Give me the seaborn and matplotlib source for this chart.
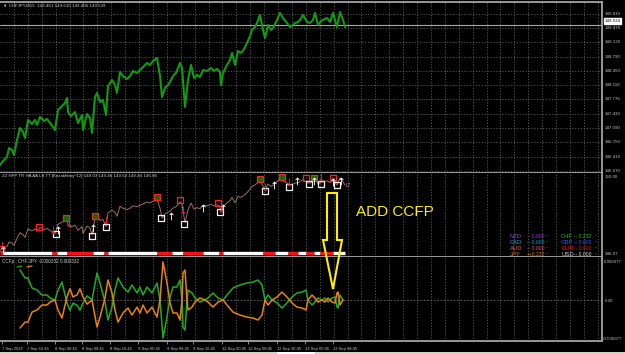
import numpy as np
import pandas as pd
import matplotlib.pyplot as plt
import seaborn as sns
from matplotlib.patches import Polygon, Rectangle
from matplotlib.lines import Line2D

# CHFJPY M15 close (x = bar position on the chart)
price_x = [0, 4, 7, 9, 12, 14, 17, 20, 23, 25, 28, 32, 35, 37, 40, 44, 47, 50, 53, 55,
           58, 62, 65, 67, 68, 71, 75, 78, 82, 83, 87, 90, 92, 95, 97, 100, 103, 106, 108, 112,
           115, 117, 120, 123, 127, 130, 133, 137, 140, 144, 147, 150, 153, 157, 160, 162, 165, 168, 170, 173,
           176, 180, 182, 185, 188, 191, 194, 197, 200, 203, 207, 211, 214, 217, 220, 221, 223, 227, 230, 232,
           235, 238, 241, 244, 247, 250, 252, 255, 257, 260, 263, 265, 268, 271, 273, 277, 280, 283, 287, 290,
           293, 295, 298, 300, 303, 307, 310, 313, 315, 318, 321, 323, 327, 330, 333, 335, 337, 340, 343, 345]
price = [146.213, 146.332, 146.403, 146.617, 146.569, 146.450, 146.807, 147.093, 146.997, 146.855,
         147.283, 147.188, 147.283, 147.164, 147.354, 147.259, 147.307, 147.211, 147.116, 147.045,
         147.521, 147.616, 147.687, 147.806, 147.473, 147.378, 147.473, 147.211, 147.402, 147.045,
         147.425, 147.330, 146.974, 147.830, 147.925, 147.711, 147.758, 147.402, 148.091, 148.234,
         148.115, 147.925, 148.424, 148.329, 148.258, 148.329, 148.448, 148.400, 148.472, 148.567,
         148.638, 148.591, 148.686, 148.757, 148.329, 147.830, 148.044, 148.115, 148.186, 148.329,
         148.400, 148.638, 148.519, 147.592, 148.234, 148.591, 148.281, 148.353, 148.305, 148.472,
         148.448, 148.519, 148.448, 148.496, 148.424, 148.115, 148.400, 148.591, 148.710, 148.876,
         148.591, 148.924, 148.876, 148.971, 149.114, 149.280, 149.423, 149.494, 149.589, 149.780,
         149.423, 149.233, 149.542, 149.423, 149.470, 149.661, 149.827, 149.708, 149.589, 149.494,
         149.542, 149.589, 149.613, 149.661, 149.780, 149.613, 149.589, 149.661, 149.827, 149.542,
         149.637, 149.661, 149.708, 149.613, 149.827, 149.661, 149.494, 149.851, 149.661, 149.494]
bid = 149.539
top_levels = [149.810, 149.470, 149.130, 148.790, 148.450, 148.110, 147.770,
              147.430, 147.090, 146.750, 146.410, 146.070]

# zigzag window: highs (red boxes), lows (white boxes), arrows
hi_x = [1, 39, 66, 95, 157, 180, 218, 260, 282, 306, 314, 333]
hi_p = [146.30, 147.38, 147.83, 147.93, 148.89, 148.74, 148.59, 149.80, 149.90, 149.85, 149.85, 149.85]
hi_green = [False, False, True, True, True, False, False, True, True, False, True, False]
dn_x = [2, 53, 69, 106, 183, 221, 265, 289, 321]
dn_p = [146.47, 147.23, 147.58, 147.73, 148.24, 148.34, 149.40, 149.65, 149.90]
lo_x = [56, 92, 106, 161, 184, 220, 265, 289, 309, 321, 337]
lo_p = [147.03, 146.93, 147.38, 147.83, 147.53, 148.14, 149.19, 149.40, 149.55, 149.55, 149.50]
up_x = [3, 58, 93, 171, 203, 223, 274, 297, 314, 333, 341]
up_p = [146.22, 147.23, 147.33, 147.93, 148.34, 148.34, 149.50, 149.70, 149.70, 149.65, 149.70]
band_level = 146.07
band_edges = [0, 3, 52, 57, 67, 93, 104, 108, 157, 172, 183, 203, 219, 223, 263, 275,
              288, 298, 306, 314, 320, 333, 345]
band_colors = ['#ff1010', '#ffffff'] * 11

# CCFp window: CHF and JPY strength
ccf_x = [20, 25, 28, 32, 37, 42, 47, 50, 55, 58, 62, 65, 67, 70, 73, 77, 80, 83, 87, 92,
         97, 100, 105, 108, 112, 115, 118, 123, 128, 132, 137, 140, 143, 147, 152, 157, 160, 163, 167, 170,
         173, 177, 180, 182, 183, 185, 187, 188, 192, 195, 200, 205, 208, 213, 218, 223, 227, 233, 240, 247,
         253, 258, 262, 265, 268, 272, 277, 282, 287, 292, 297, 302, 306, 308, 312, 315, 318, 322, 325, 328,
         332, 335, 337, 338, 340, 343]
chf = [0.000294, 0.000216, 0.000216, 0.000118, 0.000098, 0.000049, 0.000049, 0.000020, 0.0, 0.000098,
       0.000176, 0.000050, -0.000030, -0.000100, -0.000030, -0.000050, -0.000100, -0.000030, 0.000040, 0.0,
       0.000265, 0.000167, -0.000020, -0.000196, -0.000069, 0.000098, 0.000216, 0.000127, 0.000078, 0.000147,
       0.000069, 0.000127, 0.000049, 0.000127, 0.000069, 0.000167, 0.0, -0.000372, -0.000167, 0.000029,
       0.000127, 0.000127, 0.000196, 0.0, -0.000265, -0.000294, 0.0, 0.000098, 0.000069, 0.000020,
       -0.000020, 0.0, 0.000020, 0.000069, 0.000020, 0.0, 0.000049, 0.000118, 0.000147, 0.000167,
       0.000176, 0.000196, 0.000147, 0.0, 0.000049, 0.0, -0.000029, -0.000078, -0.000029, 0.000029,
       0.000069, 0.000078, 0.000098, 0.0, -0.000049, -0.000020, 0.000020, 0.0, 0.000020, -0.000020,
       0.000020, 0.000029, -0.000069, -0.000078, 0.000049, 0.0]
jpy = [-0.000274, -0.000216, -0.000216, -0.000118, -0.000098, -0.000049, -0.000049, -0.000020, 0.0, -0.000098,
       -0.000176, -0.000050, 0.000030, 0.000110, 0.000030, 0.000050, 0.000110, 0.000030, -0.000040, 0.0,
       -0.000265, -0.000167, 0.000020, 0.000196, 0.000069, -0.000098, -0.000216, -0.000127, -0.000078, -0.000147,
       -0.000069, -0.000127, -0.000049, -0.000127, -0.000069, -0.000167, 0.0, 0.000372, 0.000167, -0.000029,
       -0.000127, -0.000127, -0.000196, 0.0, 0.000265, 0.000294, 0.0, -0.000098, -0.000069, -0.000020,
       0.000020, 0.0, -0.000020, -0.000069, -0.000020, 0.0, -0.000049, -0.000118, -0.000147, -0.000167,
       -0.000176, -0.000196, -0.000147, 0.0, -0.000049, 0.0, 0.000029, 0.000078, 0.000029, -0.000029,
       -0.000069, -0.000078, -0.000098, 0.0, 0.000049, 0.000020, -0.000020, 0.0, -0.000020, 0.000020,
       -0.000020, -0.000029, 0.000069, 0.000078, -0.000049, 0.0]

time_pos = [2, 27, 55, 82, 110, 138, 167, 193, 222, 248, 277, 305, 333]
time_labels = ['7 Sep 2022', '7 Sep 16:45', '8 Sep 00:45', '8 Sep 08:45', '8 Sep 16:45',
               '9 Sep 00:45', '9 Sep 08:45', '9 Sep 16:45', '12 Sep 00:45', '12 Sep 08:45',
               '12 Sep 16:45', '13 Sep 00:45', '13 Sep 08:45']

# currency strength legend in the zigzag window
cur_left = [('NZD', '-- 0.000', '#9b35d5'), ('CAD', '-- 0.000', '#14a8dc'),
            ('AUD', '-- 0.000', '#e0587f'), ('JPY', '++0.232', '#e07a00')]
cur_right = [('CHF', '-- 0.232', '#22c022'), ('GBP', '-- 0.000', '#3c55ff'),
             ('EUR', '-- 0.000', '#e01818'), ('USD', '-- 0.000', '#d8d8d8')]

sns.set_theme(style="dark", rc={"axes.facecolor": "black", "figure.facecolor": "black"})
plt.rcParams['font.family'] = ['Liberation Sans', 'DejaVu Sans']

W, H = 625, 354
PR = 602  # right edge of the chart area
fig = plt.figure(figsize=(W / 100, H / 100), dpi=100)
fig.patch.set_facecolor('black')


def box(y0, y1):
    return [0, 1 - y1 / H, PR / W, (y1 - y0) / H]


def fx(x):
    return x / W


def fy(y):
    return 1 - y / H


ax_top = fig.add_axes(box(2, 172.5))
ax_mid = fig.add_axes(box(172.5, 257))
ax_bot = fig.add_axes(box(257, 341))

ax_top.set_ylim(146.034, 150.088)
ax_mid.set_ylim(145.869, 150.126)
ax_bot.set_ylim(-0.000401, 0.000421)

grid_x = np.arange(13.9, PR, 13.9)
sep = '#a4a4a4'
for ax in (ax_top, ax_mid, ax_bot):
    ax.set_facecolor('black')
    ax.set_xlim(0, PR)
    ax.set_xticks([])
    ax.set_yticks([])
    ax.grid(False)
    for s in ax.spines.values():
        s.set_visible(False)
    for s in ('right', 'bottom'):
        ax.spines[s].set_visible(True)
        ax.spines[s].set_color(sep)
        ax.spines[s].set_linewidth(1.3)
    lo, hi = ax.get_ylim()
    ax.vlines(grid_x, lo, hi, colors='#5e5e5e', linestyles=(0, (1.5, 2)), lw=0.6, zorder=0)
ax_top.spines['top'].set_visible(True)
ax_top.spines['top'].set_color(sep)
ax_top.spines['top'].set_linewidth(1.3)

# top window: price
ax_top.hlines(top_levels, 0, PR, colors='#5e5e5e', linestyles=(0, (1.5, 2)), lw=0.6, zorder=0)
ax_top.axhline(bid, color='#a8a8a8', lw=0.8, zorder=1)
sns.lineplot(x=price_x, y=price, ax=ax_top, color='#0f9c0f', lw=1.5, zorder=3)

# middle window: zigzag
sns.lineplot(x=price_x, y=price, ax=ax_mid, color='#9a6e6e', lw=0.7, zorder=2)
ax_mid.hlines([band_level] * (len(band_edges) - 1), band_edges[:-1], band_edges[1:],
              colors=band_colors, lw=2.4, zorder=2)
hx = np.array(hi_x)
hp = np.array(hi_p)
hg = np.array(hi_green)
ax_mid.scatter(hx[hg], hp[hg], marker='s', s=14, facecolor='#0b6e0b', edgecolor='#ff2020', linewidth=0.9, zorder=4)
ax_mid.scatter(hx[~hg], hp[~hg], marker='s', s=14, facecolor='none', edgecolor='#ff2020', linewidth=0.9, zorder=4)
ax_mid.scatter(lo_x, lo_p, marker='s', s=14, facecolor='none', edgecolor='#f0f0f0', linewidth=0.9, zorder=4)
sns.scatterplot(x=dn_x, y=dn_p, ax=ax_mid, marker=r'$\downarrow$', s=30, color='#ff2020', linewidth=0, zorder=5)
sns.scatterplot(x=up_x, y=up_p, ax=ax_mid, marker=r'$\uparrow$', s=30, color='#ffffff', linewidth=0, zorder=5)
ax_mid.text(346, 149.45, 'L7', fontsize=3.4, color='#d8a0c0', va='center')

# bottom window: CCFp
ax_bot.axhline(0, color='#6a6a6a', lw=0.6, ls=(0, (2, 2)), zorder=1)
sns.lineplot(x=ccf_x, y=chf, ax=ax_bot, color='#22ab22', lw=1.1, zorder=3)
sns.lineplot(x=ccf_x, y=jpy, ax=ax_bot, color='#e8840e', lw=1.1, zorder=3)

ax_bot.set_xticks(time_pos)
ax_bot.set_xticklabels(time_labels)
ax_bot.tick_params(axis='x', bottom=True, direction='out', length=2.5, width=0.6, color='#a0a0a0',
                   pad=1.5, labelsize=3.0, labelcolor='#c4c4c4')
for lab in ax_bot.get_xticklabels():
    lab.set_ha('left')

for ax in (ax_top, ax_mid, ax_bot):
    ax.set_xlabel('')
    ax.set_ylabel('')
    if ax.get_legend() is not None:
        ax.get_legend().remove()

# window titles
small = dict(fontsize=3.2, color='#cfcfcf', va='center', ha='left')
fig.text(fx(3), fy(5.5), '\u25bc CHFJPY,M15  149.461 149.615 149.406 149.539', **small)
fig.text(fx(2), fy(176.5), 'ZZ HPP TR HA AA LB TT [Kazakhboy^12] 149.03 149.46 149.62 149.44 146.06', **small)
fig.text(fx(2), fy(261), 'CCFp ; CHF JPY -0.000332 0.000332', fontsize=3.3, color='#cfcfcf', va='center', ha='left')
fig.add_artist(Line2D([fx(17), fx(22)], [fy(267), fy(266)], color='#22ab22', lw=0.9))
fig.add_artist(Line2D([fx(27), fx(32)], [fy(267), fy(266)], color='#e8840e', lw=0.9))

# right price scale
lab = dict(fontsize=3.2, color='#c4c4c4', va='center', ha='left')
for v in top_levels:
    y = 171 - (v - 146.070) / 0.34 * 14.3
    fig.text(fx(604.5), fy(y), f'{v:.3f}', **lab)
fig.text(fx(604.5), fy(21), f'{bid:.3f}', fontsize=3.2, color='black', va='center', ha='left',
         bbox=dict(boxstyle='square,pad=0.15', fc='white', ec='white'))
fig.text(fx(604.5), fy(177), '150.00', **lab)
fig.text(fx(604.5), fy(254), '146.07', **lab)
fig.text(fx(604), fy(262), '0.000377', **lab)
fig.text(fx(604.5), fy(301), '0.00', **lab)
fig.text(fx(603), fy(339), '-0.000377', **lab)

# currency legend
for i, (name, val, col) in enumerate(cur_left):
    y = fy(236 + 6 * i)
    fig.text(fx(510), y, name, fontsize=4.2, color=col, va='center')
    fig.text(fx(527), y, val, fontsize=3.6, color=col, va='center')
    fig.text(fx(546), y, '--', fontsize=3.6, color='#ff2020', va='center')
for i, (name, val, col) in enumerate(cur_right):
    y = fy(236 + 6 * i)
    fig.text(fx(561), y, name, fontsize=4.2, color=col, va='center')
    fig.text(fx(574), y, val, fontsize=3.6, color=col, va='center')
    fig.text(fx(595), y, '--', fontsize=3.6, color='#ff2020', va='center')

# annotation
fig.text(fx(395), fy(212.5), 'ADD CCFP', fontsize=11, color='#ffee00', ha='center', va='center',
         family='Liberation Sans')
arrow = [(327, 193), (337, 193), (337, 240), (342, 240), (333, 289), (323, 240), (327, 240)]
fig.add_artist(Polygon([(fx(x), fy(y)) for x, y in arrow], closed=True, fill=False,
                       ec='#ffee00', lw=1.5, transform=fig.transFigure, zorder=10))

# window bottom strip
fig.add_artist(Rectangle((0, 0), 1, 2.5 / H, transform=fig.transFigure, fc='#d4d0c8', ec='none'))
fig.add_artist(Rectangle((fx(277), 0), 38 / W, 2.5 / H, transform=fig.transFigure, fc='white', ec='none'))

fig.savefig('out.png', dpi=100, facecolor='black')
